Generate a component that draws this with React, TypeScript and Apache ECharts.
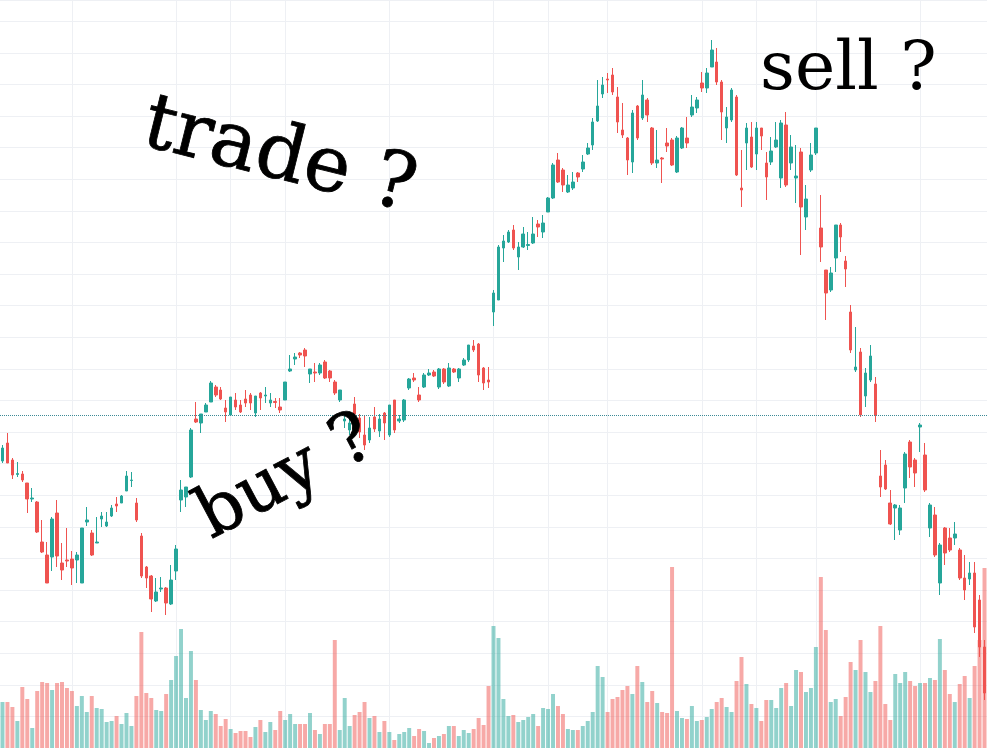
import React, { useEffect, useRef } from 'react';
import * as echarts from 'echarts';

// Daily OHLC (price units), one entry per trading day
const opens = [
  28.7, 30.5, 28.8, 27.35, 27.4, 26.5, 24.9, 24.6, 20.6, 19.3,
  19.1, 23.5, 18.5, 18.8, 18.9, 18.8, 16.5, 22.6, 21.5, 20.5,
  22.9, 22.2, 23.2, 24.4, 24.5, 25.7, 26.75, 24.5, 21.2, 18.1,
  17.2, 14.7, 15.9, 16.0, 14.4, 17.7, 24.8, 25.1, 27.1, 32.9,
  32.5, 33.6, 34.6, 36.1, 35.8, 34.0, 33.3, 34.8, 34.3, 34.9,
  35.3, 33.5, 35.5, 35.2, 34.5, 34.65, 34.1, 34.8, 37.7, 38.9,
  39.5, 39.8, 37.4, 37.6, 37.5, 38.6, 37.7, 36.6, 34.8, 32.7,
  31.8, 34.4, 33.0, 31.3, 30.8, 33.1, 31.7, 33.5, 31.3, 34.8,
  32.7, 32.8, 36.0, 37.0, 35.3, 36.1, 37.3, 37.6, 36.1, 37.9,
  36.2, 37.9, 37.0, 38.3, 38.8, 40.2, 40.4, 38.0, 36.8, 43.6,
  44.8, 50.0, 50.6, 51.8, 49.1, 50.1, 50.25, 50.5, 52.4, 51.6,
  53.6, 55.0, 58.8, 57.8, 55.6, 56.0, 57.5, 57.9, 59.4, 60.3,
  62.7, 65.4, 66.9, 67.3, 65.1, 61.8, 61.0, 58.6, 64.2, 63.0,
  64.8, 62.0, 58.5, 59.0, 60.5, 60.8, 57.6, 60.0, 61.0, 63.3,
  64.0, 66.5, 66.0, 68.1, 68.6, 66.6, 62.0, 62.8, 65.1, 56.0,
  60.5, 61.1, 59.4, 62.0, 58.5, 58.6, 60.1, 57.0, 62.3, 58.5,
  57.0, 59.6, 53.1, 57.8, 59.5, 52.0, 47.8, 45.8, 49.0, 52.3,
  48.7, 43.6, 37.8, 39.6, 35.2, 36.8, 36.4, 27.2, 28.3, 24.5,
  24.0, 21.8, 26.0, 30.6, 28.8, 32.1, 29.3, 22.0, 23.3, 16.5,
  22.0, 21.0, 21.0, 19.8, 17.0, 16.9, 17.5, 14.8, 10.1,
];

const closes = [
  30.0, 28.5, 27.3, 27.45, 26.8, 24.9, 25.0, 21.6, 19.6, 16.5,
  22.9, 19.2, 17.8, 18.7, 18.0, 19.3, 22.0, 22.8, 19.3, 20.6,
  23.2, 22.6, 24.0, 24.2, 25.2, 27.2, 26.8, 22.8, 17.2, 17.0,
  14.9, 15.6, 16.0, 14.5, 16.8, 19.9, 25.8, 26.1, 31.8, 32.6,
  33.4, 34.3, 36.5, 35.3, 34.9, 33.6, 35.1, 34.1, 33.6, 34.5,
  34.5, 35.2, 35.0, 35.3, 34.8, 34.55, 33.8, 36.6, 37.9, 39.1,
  39.3, 39.2, 37.9, 37.5, 38.3, 37.0, 37.0, 35.5, 35.8, 32.9,
  32.5, 33.4, 31.6, 30.3, 32.0, 31.9, 32.9, 32.5, 34.3, 31.8,
  32.9, 34.8, 36.9, 36.8, 34.8, 37.3, 37.5, 37.2, 37.9, 36.6,
  38.0, 37.6, 37.9, 38.8, 40.3, 39.8, 37.3, 36.5, 36.6, 45.5,
  50.1, 50.7, 51.6, 50.0, 50.1, 51.4, 50.35, 51.4, 52.1, 52.5,
  55.0, 58.3, 56.6, 56.3, 56.3, 56.6, 57.1, 58.6, 60.0, 62.6,
  64.2, 66.3, 66.8, 65.6, 62.6, 61.3, 58.8, 63.5, 61.0, 65.3,
  63.3, 58.5, 58.8, 58.9, 60.2, 58.3, 61.0, 62.0, 60.5, 64.1,
  64.8, 66.0, 67.5, 69.8, 66.6, 63.6, 63.1, 65.8, 57.3, 55.8,
  62.0, 58.1, 62.0, 61.2, 57.1, 59.7, 60.8, 62.5, 56.3, 60.1,
  57.2, 54.1, 54.9, 59.3, 62.0, 50.1, 45.5, 47.5, 52.3, 51.1,
  47.9, 39.8, 38.1, 33.3, 37.5, 39.2, 33.3, 26.1, 25.9, 22.4,
  24.3, 24.0, 29.4, 28.1, 27.5, 32.3, 25.8, 24.3, 19.3, 20.3,
  19.5, 19.8, 21.4, 17.0, 15.8, 17.5, 12.1, 10.1, 5.5,
];

const lows = [
  28.5, 28.5, 26.9, 27.1, 26.6, 23.5, 24.6, 21.5, 19.5, 16.5,
  17.7, 18.1, 16.8, 18.1, 16.3, 16.5, 16.5, 22.2, 19.2, 20.5,
  22.1, 22.1, 23.1, 23.6, 24.5, 25.7, 26.1, 22.6, 17.0, 16.0,
  13.6, 14.6, 15.6, 13.3, 14.3, 16.8, 23.6, 24.1, 27.0, 32.5,
  31.5, 33.6, 34.6, 35.1, 34.8, 32.6, 33.3, 33.8, 33.5, 34.1,
  33.8, 33.1, 33.8, 34.5, 34.1, 34.0, 33.5, 34.8, 37.6, 38.3,
  39.0, 38.1, 36.5, 36.6, 37.3, 36.9, 36.6, 35.3, 34.6, 32.0,
  31.3, 32.8, 31.0, 29.8, 30.5, 31.6, 31.1, 30.8, 31.1, 31.5,
  32.5, 32.6, 35.8, 36.6, 34.6, 36.0, 37.2, 37.1, 35.9, 36.4,
  36.1, 37.5, 36.6, 38.2, 38.6, 39.6, 36.6, 35.8, 36.0, 42.2,
  44.8, 48.6, 50.5, 49.8, 47.8, 50.0, 49.8, 50.4, 51.1, 51.0,
  53.6, 54.9, 56.5, 55.6, 55.5, 55.8, 56.6, 57.6, 59.3, 59.8,
  62.6, 65.0, 65.5, 65.3, 61.5, 61.0, 57.3, 57.5, 60.8, 62.8,
  62.6, 58.3, 58.0, 56.5, 59.6, 58.2, 57.5, 59.9, 60.0, 63.1,
  63.5, 65.6, 65.5, 68.1, 66.3, 60.8, 60.5, 62.6, 57.2, 54.1,
  57.8, 58.0, 57.8, 59.8, 54.8, 58.3, 60.0, 56.0, 56.1, 57.8,
  54.5, 49.3, 51.8, 57.6, 59.3, 48.6, 42.8, 45.6, 47.6, 49.6,
  46.1, 39.5, 37.6, 33.1, 34.1, 36.6, 32.6, 25.1, 25.8, 22.3,
  20.8, 21.3, 24.5, 27.0, 26.1, 29.6, 25.6, 21.1, 19.1, 15.3,
  18.3, 19.6, 20.3, 16.8, 14.8, 16.3, 11.5, 9.1, 4.8,
];

const highs = [
  30.3, 31.5, 29.0, 28.6, 27.7, 26.5, 26.0, 24.7, 22.8, 20.6,
  23.1, 24.8, 20.5, 22.0, 19.7, 19.6, 22.0, 24.1, 21.8, 23.1,
  23.6, 23.6, 24.3, 25.1, 25.3, 27.7, 27.6, 25.0, 21.5, 18.2,
  17.3, 17.0, 17.1, 16.1, 18.3, 20.3, 26.8, 26.1, 32.0, 34.6,
  33.4, 34.5, 36.7, 36.3, 36.1, 34.8, 35.1, 35.5, 34.8, 35.8,
  35.5, 35.2, 35.6, 36.1, 35.5, 35.0, 35.0, 36.6, 39.3, 39.5,
  39.6, 40.0, 37.9, 38.5, 38.5, 38.8, 37.8, 36.8, 35.8, 33.5,
  33.0, 35.1, 33.4, 33.3, 33.1, 34.1, 33.4, 33.6, 34.3, 34.8,
  33.3, 34.9, 37.0, 37.5, 36.1, 37.5, 37.9, 37.8, 38.0, 38.0,
  38.5, 38.0, 38.0, 39.0, 40.3, 40.8, 40.5, 38.1, 38.1, 45.8,
  50.3, 51.3, 51.8, 52.3, 50.6, 52.1, 51.6, 53.1, 52.8, 53.3,
  55.1, 58.5, 59.5, 58.0, 57.3, 57.6, 57.6, 59.3, 60.5, 63.0,
  66.8, 67.1, 67.5, 68.0, 66.1, 64.5, 61.1, 63.8, 64.3, 66.8,
  65.0, 62.1, 61.8, 59.1, 62.0, 61.0, 61.2, 62.1, 63.1, 65.3,
  65.1, 67.6, 68.0, 70.8, 70.0, 66.8, 64.1, 66.0, 65.3, 59.8,
  62.5, 62.6, 62.6, 62.0, 59.6, 61.1, 62.6, 62.8, 63.6, 61.3,
  60.3, 60.0, 56.3, 60.5, 62.0, 55.3, 47.8, 48.1, 52.3, 52.5,
  49.2, 44.3, 42.1, 40.0, 38.0, 40.3, 37.1, 29.8, 28.8, 25.8,
  24.4, 24.3, 29.6, 30.8, 29.0, 32.5, 30.5, 24.5, 24.1, 20.5,
  22.1, 22.0, 22.6, 20.0, 19.3, 18.6, 18.6, 15.3, 10.8,
];

// Daily volume (millions of shares)
const volumes = [
  4.6, 4.6, 4.1, 2.7, 6.1, 4.9, 2.0, 5.7, 6.6, 6.5,
  5.8, 6.5, 6.6, 6.0, 5.7, 4.2, 5.2, 3.6, 5.2, 4.0,
  3.9, 2.6, 2.7, 3.2, 2.4, 3.5, 2.2, 5.2, 11.6, 5.5,
  5.0, 3.8, 3.7, 5.4, 6.8, 9.2, 11.9, 5.0, 9.7, 6.8,
  3.8, 2.8, 3.7, 3.4, 2.2, 2.9, 1.9, 1.5, 1.7, 1.7,
  1.1, 2.1, 2.8, 1.6, 2.6, 1.8, 3.7, 2.8, 3.4, 2.4,
  2.4, 2.4, 3.5, 1.8, 1.4, 2.4, 2.4, 10.8, 1.8, 5.0,
  2.2, 3.3, 3.6, 4.6, 3.0, 3.2, 1.6, 2.7, 1.6, 0.8,
  1.4, 1.6, 2.0, 1.2, 1.9, 1.7, 0.5, 1.0, 1.2, 1.4,
  2.2, 2.2, 1.2, 1.8, 1.5, 1.9, 3.0, 2.3, 6.2, 12.2,
  11.0, 4.9, 3.2, 3.3, 2.6, 2.8, 3.1, 3.4, 2.2, 4.0,
  3.9, 5.4, 4.2, 3.4, 1.9, 1.8, 1.8, 2.2, 2.7, 3.6,
  8.2, 7.1, 3.6, 4.9, 5.1, 5.8, 6.2, 5.4, 8.2, 6.6,
  4.6, 5.7, 4.5, 3.6, 3.5, 18.1, 3.7, 3.0, 2.9, 4.2,
  2.7, 2.8, 3.1, 3.9, 4.6, 5.0, 4.1, 3.6, 6.7, 9.1,
  6.4, 4.4, 4.0, 2.7, 4.8, 4.8, 4.0, 6.0, 6.5, 4.2,
  7.8, 7.6, 5.6, 6.0, 10.1, 17.1, 11.8, 4.6, 4.9, 3.2,
  5.1, 8.6, 7.8, 10.8, 7.6, 5.6, 6.7, 12.2, 4.4, 2.8,
  7.4, 6.5, 7.6, 6.7, 6.2, 6.5, 6.5, 7.0, 6.8, 10.9,
  7.8, 5.4, 4.6, 6.4, 7.2, 5.0, 8.2, 10.8, 18.0,
];

// Day indices where the time grid draws a vertical line
const gridDays = [14, 35, 46, 57, 78, 99, 110, 122, 141, 152, 164, 185];

// Reference (dotted) price line
const refPrice = 33.3;

// Handwritten-style notes
const notes = ['trade ?', 'buy ?', 'sell ?'];

const UP = '#26a69a';
const DOWN = '#ef5350';
const UP_VOL = 'rgba(38,166,154,0.5)';
const DOWN_VOL = 'rgba(239,83,80,0.5)';
const GRID = '#eef0f4';

export default function App() {
  const ref = useRef<HTMLDivElement>(null);

  useEffect(() => {
    if (!ref.current) return;
    const chart = echarts.init(ref.current, null, { renderer: 'svg' });
    const cats = opens.map((_, i) => String(i));
    const candles = opens.map((o, i) => [o, closes[i], lows[i], highs[i]]);
    const vols = volumes.map((v, i) => ({
      value: v,
      itemStyle: { color: closes[i] >= opens[i] ? UP_VOL : DOWN_VOL },
    }));

    chart.setOption({
      animation: false,
      backgroundColor: '#ffffff',
      grid: { left: 0, right: 0, top: 0, bottom: 0, containLabel: false },
      xAxis: {
        type: 'category',
        data: cats,
        boundaryGap: true,
        axisLine: { show: false },
        axisTick: { show: false },
        axisLabel: { show: false },
        splitLine: { show: false },
      },
      yAxis: [
        {
          type: 'value',
          min: 0,
          max: 74.8,
          interval: 3.16,
          axisLine: { show: false },
          axisTick: { show: false },
          axisLabel: { show: false },
          splitLine: { show: true, lineStyle: { color: GRID, width: 1 } },
        },
        {
          type: 'value',
          min: 0,
          max: 74.8,
          axisLine: { show: false },
          axisTick: { show: false },
          axisLabel: { show: false },
          splitLine: { show: false },
        },
      ],
      series: [
        {
          type: 'bar',
          name: 'volume',
          xAxisIndex: 0,
          yAxisIndex: 1,
          data: vols,
          barWidth: '80%',
          z: 2,
          silent: true,
          markLine: {
            silent: true,
            symbol: 'none',
            z: 1,
            label: { show: false },
            lineStyle: { color: GRID, width: 1, type: 'solid' },
            data: gridDays.map((d) => ({ xAxis: String(d) })),
          },
        },
        {
          type: 'candlestick',
          name: 'price',
          xAxisIndex: 0,
          yAxisIndex: 0,
          data: candles,
          barWidth: '62%',
          z: 3,
          itemStyle: {
            color: UP,
            color0: DOWN,
            borderColor: UP,
            borderColor0: DOWN,
            borderWidth: 1,
          },
          markLine: {
            silent: true,
            symbol: 'none',
            label: { show: false },
            lineStyle: { color: '#3d8a96', width: 1, type: 'dotted' },
            data: [{ yAxis: refPrice }],
          },
        },
      ],
      graphic: [
        {
          type: 'text',
          x: 146,
          y: 118,
          rotation: -14 * Math.PI / 180,
          z: 100,
          style: {
            text: notes[0],
            font: '78px "DejaVu Serif"',
            fill: '#000000',
            stroke: '#000000',
            lineWidth: 0.8,
            textAlign: 'left',
            textVerticalAlign: 'middle',
          },
        },
        {
          type: 'text',
          x: 200,
          y: 518,
          rotation: 28 * Math.PI / 180,
          z: 100,
          style: {
            text: notes[1],
            font: '70px "DejaVu Serif"',
            fill: '#000000',
            stroke: '#000000',
            lineWidth: 0.8,
            textAlign: 'left',
            textVerticalAlign: 'middle',
          },
        },
        {
          type: 'text',
          x: 760,
          y: 65,
          z: 100,
          style: {
            text: notes[2],
            font: '68px "DejaVu Serif"',
            fill: '#000000',
            textAlign: 'left',
            textVerticalAlign: 'middle',
          },
        },
      ],
    });

    return () => chart.dispose();
  }, []);

  return (
    <div
      ref={ref}
      style={{ position: 'fixed', left: 0, top: 0, width: 987, height: 748, background: '#fff' }}
    />
  );
}
